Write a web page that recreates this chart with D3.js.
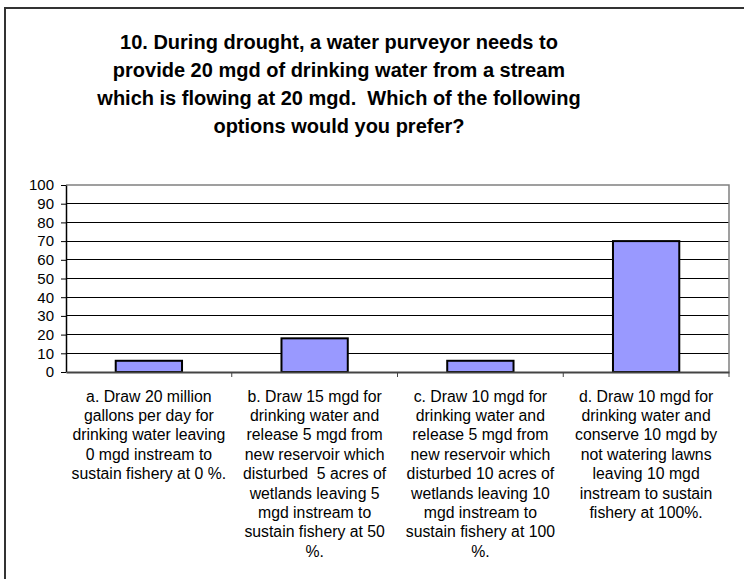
<!DOCTYPE html>
<html>
<head>
<meta charset="utf-8">
<script src="https://cdn.jsdelivr.net/npm/d3@7"></script>
<style>
  body { margin: 0; background: #fff; }
  svg { display: block; font-family: "Liberation Sans", Arial, sans-serif; }
  text { white-space: pre; }
</style>
</head>
<body>
<script>
const titleLines = [
  '10. During drought, a water purveyor needs to',
  'provide 20 mgd of drinking water from a stream',
  'which is flowing at 20 mgd.  Which of the following',
  'options would you prefer?'
]
const categories = ['a', 'b', 'c', 'd']
const values = [6, 18, 6, 70]
const yTicks = [0, 10, 20, 30, 40, 50, 60, 70, 80, 90, 100]
const categoryLabels = [
  ['a. Draw 20 million', 'gallons per day for', 'drinking water leaving', '0 mgd instream to', 'sustain fishery at 0 %.'],
  ['b. Draw 15 mgd for', 'drinking water and', 'release 5 mgd from', 'new reservoir which', 'disturbed  5 acres of', 'wetlands leaving 5', 'mgd instream to', 'sustain fishery at 50', '%.'],
  ['c. Draw 10 mgd for', 'drinking water and', 'release 5 mgd from', 'new reservoir which', 'disturbed 10 acres of', 'wetlands leaving 10', 'mgd instream to', 'sustain fishery at 100', '%.'],
  ['d. Draw 10 mgd for', 'drinking water and', 'conserve 10 mgd by', 'not watering lawns', 'leaving 10 mgd', 'instream to sustain', 'fishery at 100%.']
]

const W = 744, H = 579
const plot = { left: 66, right: 729, top: 185, bottom: 372 }

const svg = d3.select('body').append('svg')
  .attr('width', W)
  .attr('height', H)

// outer frame (cut off at right and bottom like the screenshot)
svg.append('rect')
  .attr('x', 5).attr('y', 8)
  .attr('width', W + 20).attr('height', H + 20)
  .attr('fill', '#fff')
  .attr('stroke', '#333')
  .attr('stroke-width', 2)

// title
svg.append('g')
  .selectAll('text')
  .data(titleLines)
  .join('text')
  .attr('x', 339)
  .attr('y', (d, i) => 49 + i * 28)
  .attr('text-anchor', 'middle')
  .attr('font-size', 20)
  .attr('font-weight', 'bold')
  .attr('fill', '#000')
  .text(d => d)

const x = d3.scaleBand().domain(categories).range([plot.left, plot.right])
const y = d3.scaleLinear().domain([0, 100]).range([plot.bottom, plot.top])

// gridlines
svg.append('g')
  .selectAll('line')
  .data(yTicks.filter(t => t > 0 && t < 100))
  .join('line')
  .attr('x1', plot.left).attr('x2', plot.right)
  .attr('y1', d => y(d)).attr('y2', d => y(d))
  .attr('stroke', '#000')
  .attr('stroke-width', 1)
  .attr('shape-rendering', 'crispEdges')

// plot area border top / right
svg.append('path')
  .attr('d', `M${plot.left},${y(100)}H${plot.right}V${plot.bottom}`)
  .attr('fill', 'none')
  .attr('stroke', '#808080')
  .attr('stroke-width', 1.5)

// bars
const barW = x.bandwidth() * 0.4
svg.append('g')
  .selectAll('rect')
  .data(values)
  .join('rect')
  .attr('x', (d, i) => x(categories[i]) + (x.bandwidth() - barW) / 2)
  .attr('y', d => y(d))
  .attr('width', barW)
  .attr('height', d => y(0) - y(d))
  .attr('fill', '#9999ff')
  .attr('stroke', '#000')
  .attr('stroke-width', 2)

// y axis
const yAxis = svg.append('g')
  .attr('transform', `translate(${plot.left},0)`)
  .call(d3.axisLeft(y).tickValues(yTicks).tickSize(5).tickPadding(7).tickSizeOuter(0))
yAxis.attr('font-size', null).attr('font-family', null)
yAxis.select('.domain').attr('stroke', '#000').attr('stroke-width', 1.5)
yAxis.selectAll('.tick line').attr('stroke', '#000')
yAxis.selectAll('.tick text')
  .style('font-size', '15px')
  .style('font-family', '"Liberation Sans", Arial, sans-serif')
  .attr('fill', '#000')

// x axis
const xAxis = svg.append('g')
  .attr('transform', `translate(0,${plot.bottom})`)
  .call(d3.axisBottom(x).tickSize(0).tickFormat(''))
xAxis.select('.domain').attr('stroke', '#444').attr('stroke-width', 2)
// tick marks between categories
svg.append('g')
  .selectAll('line')
  .data(categories)
  .join('line')
  .attr('x1', d => x(d) + x.bandwidth()).attr('x2', d => x(d) + x.bandwidth())
  .attr('y1', plot.bottom).attr('y2', plot.bottom + 5)
  .attr('stroke', '#444')
  .attr('stroke-width', 1)

// category labels
const labels = svg.append('g')
  .selectAll('text')
  .data(categoryLabels)
  .join('text')
  .attr('text-anchor', 'middle')
  .attr('font-size', 15.8)
  .attr('fill', '#000')
labels.each(function (lines, i) {
  d3.select(this).selectAll('tspan')
    .data(lines)
    .join('tspan')
    .attr('x', x(categories[i]) + x.bandwidth() / 2)
    .attr('y', (d, j) => 401.5 + j * 19.4)
    .text(d => d)
})
</script>
</body>
</html>
